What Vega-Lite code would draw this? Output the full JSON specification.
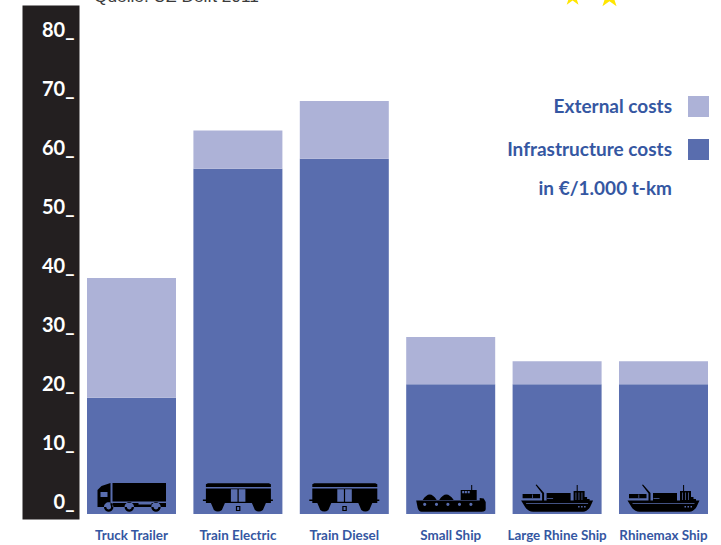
{
  "$schema": "https://vega.github.io/schema/vega-lite/v6.json",
  "width": 621,
  "height": 514,
  "autosize": "none",
  "padding": {"left": 87, "top": 5, "right": 13, "bottom": 26},
  "background": "white",
  "datasets": {
    "costs": [
      {"mode": "Truck Trailer", "type": "Infrastructure costs", "cost": 19.7},
      {"mode": "Truck Trailer", "type": "External costs", "cost": 20.3},
      {"mode": "Train Electric", "type": "Infrastructure costs", "cost": 58.5},
      {"mode": "Train Electric", "type": "External costs", "cost": 6.5},
      {"mode": "Train Diesel", "type": "Infrastructure costs", "cost": 60.2},
      {"mode": "Train Diesel", "type": "External costs", "cost": 9.8},
      {"mode": "Small Ship", "type": "Infrastructure costs", "cost": 22},
      {"mode": "Small Ship", "type": "External costs", "cost": 8},
      {"mode": "Large Rhine Ship", "type": "Infrastructure costs", "cost": 22},
      {"mode": "Large Rhine Ship", "type": "External costs", "cost": 3.9},
      {"mode": "Rhinemax Ship", "type": "Infrastructure costs", "cost": 22},
      {"mode": "Rhinemax Ship", "type": "External costs", "cost": 3.9}
    ],
    "icons": [
      {"mode": "Truck Trailer", "icon": "truck"},
      {"mode": "Train Electric", "icon": "train"},
      {"mode": "Train Diesel", "icon": "train"},
      {"mode": "Small Ship", "icon": "small"},
      {"mode": "Large Rhine Ship", "icon": "large"},
      {"mode": "Rhinemax Ship", "icon": "large"}
    ]
  },
  "config": {"view": {"stroke": null}},
  "layer": [
    {
      "data": {"name": "costs"},
      "mark": {"type": "bar"},
      "encoding": {
        "x": {
          "field": "mode",
          "type": "nominal",
          "sort": null,
          "scale": {"paddingInner": 0.1635, "paddingOuter": 0},
          "axis": {
            "title": null,
            "domain": false,
            "ticks": false,
            "labelAngle": 0,
            "labelPadding": 9,
            "labelFont": "Lato",
            "labelFontWeight": "bold",
            "labelFontSize": 13.4,
            "labelColor": "#3557a2"
          }
        },
        "y": {
          "field": "cost",
          "type": "quantitative",
          "stack": "zero",
          "scale": {"domain": [-0.85, 86.27], "nice": false, "zero": false},
          "axis": {
            "title": null,
            "labels": false,
            "grid": false,
            "ticks": false,
            "domainColor": "#231f20",
            "domainWidth": 57,
            "offset": 36.5
          }
        },
        "color": {
          "field": "type",
          "type": "nominal",
          "scale": {
            "domain": ["External costs", "Infrastructure costs"],
            "range": ["#adb2d7", "#596dae"]
          },
          "legend": {
            "orient": "none",
            "legendX": 601,
            "legendY": 91,
            "title": null,
            "symbolType": "square",
            "symbolSize": 441,
            "symbolStrokeWidth": 0,
            "labelFont": "Lato",
            "labelFontWeight": "bold",
            "labelFontSize": 19,
            "labelColor": "#3557a2",
            "labelAlign": "right",
            "labelOffset": -37,
            "labelLimit": 300,
            "rowPadding": 22
          }
        }
      }
    },
    {
      "data": {"name": "icons"},
      "mark": {"type": "point", "filled": true, "opacity": 1, "size": 4, "color": "#000000"},
      "encoding": {
        "x": {"field": "mode", "type": "nominal", "sort": null},
        "y": {
          "datum": 0,
          "type": "quantitative",
          "axis": {
            "orient": "left",
            "title": null,
            "values": [0, 10, 20, 30, 40, 50, 60, 70, 80],
            "labelExpr": "datum.label + '_'",
            "grid": false,
            "ticks": false,
            "domain": false,
            "offset": 36.5,
            "labelPadding": -23.5,
            "labelFont": "Lato",
            "labelFontWeight": "bold",
            "labelFontSize": 20,
            "labelColor": "white",
            "labelOffset": -11.5,
            "zindex": 1
          }
        },
        "shape": {
          "field": "icon",
          "type": "nominal",
          "legend": null,
          "scale": {
            "domain": ["truck", "train", "small", "large"],
            "range": [
              "M-19 -31H34.5V-12.5H-19ZM-19 -11H34.5V-7H-19ZM-34 -7V-24L-30 -28L-21 -31V-7ZM-27.5 -7a4.7 4.7 0 1 0 9.4 0a4.7 4.7 0 1 0 -9.4 0ZM-6.9 -7a4.7 4.7 0 1 0 9.4 0a4.7 4.7 0 1 0 -9.4 0ZM19.8 -7a4.7 4.7 0 1 0 9.4 0a4.7 4.7 0 1 0 -9.4 0Z",
              "M-32 -29.7L-30 -30.7H31L33 -29.7V-27H-32ZM-32 -25.5H33V-11H-32ZM-35 -14.5H35V-13H-35ZM-27 -11H-13L-16 -4Q-20 -1 -24 -4ZM14 -11H28L25 -4Q21 -1 17 -4ZM-2 -8H2.5V-3H-2Z",
              "M-34.5 -13.5H29V-16L33 -15.5L35 -12V-5Q35 -2.3 31 -2.3H-29Q-32 -2.3 -33 -6ZM-28 -14Q-21 -25 -14 -14ZM-11.5 -14Q-4.5 -25 3 -14ZM10 -24H26V-14H10ZM20.5 -29H21.5V-24H20.5Z",
              "M-36 -13.5H36L33 -7Q30 -2.3 26 -2.3H-24Q-29 -2.3 -32 -7ZM-34.5 -20H-17V-15.7H-34.5ZM-10.5 -21H13.5V-13H-10.5ZM-21.5 -29L-20.5 -29.5L-13 -21V-13H-15V-20.5ZM16.5 -23H27.5V-13H16.5ZM19.6 -29H20.6V-23H19.6ZM27.5 -17H30V-15H32.5V-13H27.5Z"
            ]
          }
        }
      }
    },
    {
      "data": {"name": "icons"},
      "mark": {"type": "point", "filled": true, "opacity": 1, "size": 4, "color": "#596dae"},
      "encoding": {
        "x": {"field": "mode", "type": "nominal", "sort": null},
        "y": {"datum": 0, "type": "quantitative", "axis": null},
        "shape": {
          "field": "icon",
          "type": "nominal",
          "legend": null,
          "scale": {
            "domain": ["truck", "train", "small", "large"],
            "range": [
              "M-31 -22H-24V-17H-31ZM-25.2 -7a2.4 2.4 0 1 0 4.8 0a2.4 2.4 0 1 0 -4.8 0ZM-4.6 -7a2.4 2.4 0 1 0 4.8 0a2.4 2.4 0 1 0 -4.8 0ZM22.1 -7a2.4 2.4 0 1 0 4.8 0a2.4 2.4 0 1 0 -4.8 0ZM7 -11H20V-9.5H7Z",
              "M-7 -24.7H-0.4V-12.3H-7ZM0.8 -24.7H7.5V-12.3H0.8ZM-0.8 -7H1.3V-4H-0.8Z",
              "M11.5 -23H13.5V-20.7H11.5ZM14.2 -23H16.2V-20.7H14.2ZM17 -23H19V-20.7H17ZM-27.6 -9.7a1.6 1.6 0 1 0 3.2 0a1.6 1.6 0 1 0 -3.2 0ZM-15.8 -9.7a1.6 1.6 0 1 0 3.2 0a1.6 1.6 0 1 0 -3.2 0ZM-4.4 -9.7a1.6 1.6 0 1 0 3.2 0a1.6 1.6 0 1 0 -3.2 0ZM7.2 -9.7a1.6 1.6 0 1 0 3.2 0a1.6 1.6 0 1 0 -3.2 0ZM18.6 -9.7a1.6 1.6 0 1 0 3.2 0a1.6 1.6 0 1 0 -3.2 0Z",
              "M-31 -10.8H31V-10H-31ZM21 -8H22.5V-6.5H21ZM24 -8H25.5V-6.5H24ZM27 -8H28.5V-6.5H27ZM-10 -16H-4V-15.2H-10ZM-25 -19.5H-24.3V-16H-25ZM18.5 -21.5H19.2V-14H18.5ZM21.5 -21.5H22.2V-14H21.5ZM24.5 -21.5H25.2V-14H24.5Z"
            ]
          }
        }
      }
    },
    {
      "data": {"values": [{"mode": "Rhinemax Ship", "level": 55.1, "unit": "in €/1.000 t-km"}]},
      "mark": {"type": "text", "align": "right", "baseline": "middle", "dx": 8.5, "font": "Lato", "fontWeight": "bold", "fontSize": 19, "color": "#3557a2"},
      "encoding": {
        "x": {"field": "mode", "type": "nominal", "sort": null},
        "y": {"field": "level", "type": "quantitative", "axis": null},
        "text": {"field": "unit"}
      }
    },
    {
      "data": {"values": [{"mode": "Truck Trailer", "level": 86.8, "source": "Quelle: UZ Delft 2011"}]},
      "mark": {"type": "text", "align": "left", "baseline": "alphabetic", "dx": -37.5, "font": "Liberation Sans", "fontSize": 17.3, "color": "#3a3a3a"},
      "encoding": {
        "x": {"field": "mode", "type": "nominal", "sort": null},
        "y": {"field": "level", "type": "quantitative", "axis": null},
        "text": {"field": "source"}
      }
    },
    {
      "data": {"values": [{"mode": "Large Rhine Ship", "level": 87.7}]},
      "mark": {"type": "point", "shape": "M15.5 -10L17.75 -3.09L25.01 -3.09L19.13 1.18L21.38 8.09L15.5 3.82L9.62 8.09L11.87 1.18L5.99 -3.09L13.25 -3.09Z", "filled": true, "opacity": 1, "size": 4, "color": "#ffe600"},
      "encoding": {
        "x": {"field": "mode", "type": "nominal", "sort": null},
        "y": {"field": "level", "type": "quantitative", "axis": null}
      }
    },
    {
      "data": {"values": [{"mode": "Rhinemax Ship", "level": 87.7}]},
      "mark": {"type": "point", "shape": "M-54 -12L-51.3 -3.71L-42.59 -3.71L-49.64 1.42L-46.94 9.71L-54 4.58L-61.06 9.71L-58.36 1.42L-65.41 -3.71L-56.7 -3.71Z", "filled": true, "opacity": 1, "size": 4, "color": "#ffe600"},
      "encoding": {
        "x": {"field": "mode", "type": "nominal", "sort": null},
        "y": {"field": "level", "type": "quantitative", "axis": null}
      }
    }
  ],
  "resolve": {"scale": {"shape": "independent"}, "axis": {"y": "independent"}}
}
